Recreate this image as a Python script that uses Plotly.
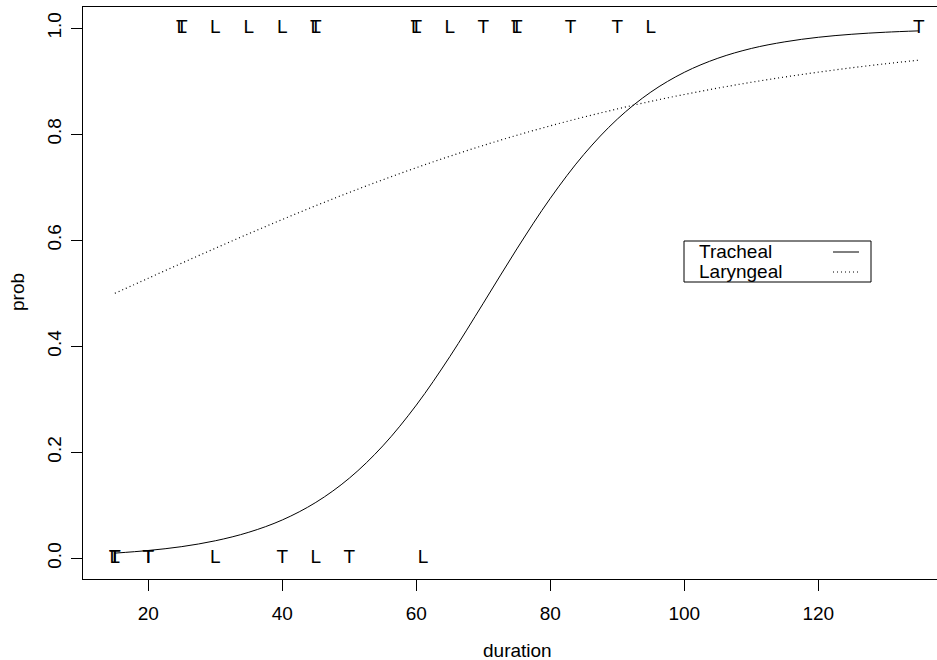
import plotly.graph_objects as go

# ---- data ----
duration_grid = [15, 20, 25, 30, 35, 40, 45, 50, 55, 60, 65, 70, 75, 80, 85,
                 90, 95, 100, 105, 110, 115, 120, 125, 130, 135]
prob_tracheal = [0.0098, 0.0148, 0.0221, 0.0331, 0.0492, 0.0724, 0.1055, 0.1512,
                 0.2121, 0.2891, 0.3805, 0.4813, 0.5836, 0.6792, 0.7618, 0.8285,
                 0.8795, 0.9168, 0.9433, 0.9618, 0.9743, 0.9829, 0.9886, 0.9924,
                 0.9950]
prob_laryngeal = [0.4999, 0.5284, 0.5569, 0.5849, 0.6124, 0.6392, 0.6652, 0.6902,
                  0.7141, 0.7369, 0.7585, 0.7789, 0.7980, 0.8158, 0.8324, 0.8477,
                  0.8620, 0.8750, 0.8870, 0.8980, 0.9080, 0.9171, 0.9254, 0.9329,
                  0.9397]

# observed outcomes (letter markers)
obs_T_duration = [25, 45, 60, 70, 75, 83, 90, 135, 15, 15, 20, 20, 40, 50]
obs_T_y        = [1, 1, 1, 1, 1, 1, 1, 1, 0, 0, 0, 0, 0, 0]
obs_L_duration = [25, 30, 35, 40, 45, 60, 65, 75, 95, 15, 30, 45, 61]
obs_L_y        = [1, 1, 1, 1, 1, 1, 1, 1, 1, 0, 0, 0, 0]

x_ticks = [20, 40, 60, 80, 100, 120]
y_ticks = [0.0, 0.2, 0.4, 0.6, 0.8, 1.0]
legend_labels = ["Tracheal", "Laryngeal"]

# ---- layout geometry (pixels) ----
W, H = 937, 660
ML, MR, MT, MB = 83, 0, 7, 81
PW, PH = W - ML - MR, H - MT - MB
FONT = "Liberation Sans, Arial, Helvetica, sans-serif"
FS = 19


def px2paper(px, py):
    return (px - ML) / PW, (H - MB - py) / PH


fig = go.Figure()

fig.add_trace(go.Scatter(x=duration_grid, y=prob_tracheal, mode="lines",
                         line=dict(color="black", width=1, shape="spline", smoothing=1),
                         showlegend=False, hoverinfo="skip"))
fig.add_trace(go.Scatter(x=duration_grid, y=prob_laryngeal, mode="lines",
                         line=dict(color="black", width=1.2, dash="1px,3px",
                                   shape="spline", smoothing=1),
                         showlegend=False, hoverinfo="skip"))

fig.add_trace(go.Scatter(x=obs_T_duration, y=obs_T_y, mode="text",
                         text=["T"] * len(obs_T_duration),
                         textposition="middle center",
                         textfont=dict(family=FONT, size=FS, color="black"),
                         showlegend=False))
fig.add_trace(go.Scatter(x=obs_L_duration, y=obs_L_y, mode="text",
                         text=["L"] * len(obs_L_duration),
                         textposition="middle center",
                         textfont=dict(family=FONT, size=FS, color="black"),
                         showlegend=False))

# ---- custom legend box ----
x0, y0 = px2paper(684, 241)
x1, y1 = px2paper(871, 282)
fig.add_shape(type="rect", xref="paper", yref="paper", x0=x0, y0=y1, x1=x1, y1=y0,
              line=dict(color="black", width=1), fillcolor="white", layer="above")
row_py = [251, 271]
dashes = ["solid", "1px,3px"]
for lab, py, d in zip(legend_labels, row_py, dashes):
    tx, ty = px2paper(697, py)
    fig.add_annotation(x=tx, y=ty, xref="paper", yref="paper", text=lab,
                       showarrow=False, xanchor="left", yanchor="middle",
                       font=dict(family=FONT, size=FS, color="black"))
    lx0, ly = px2paper(833, py + 1)
    lx1, _ = px2paper(859, py + 1)
    fig.add_shape(type="line", xref="paper", yref="paper", x0=lx0, x1=lx1, y0=ly, y1=ly,
                  line=dict(color="black", width=1, dash=d), layer="above")

# ---- axis titles ----
ax, ay = px2paper(517, 650)
fig.add_annotation(x=ax, y=ay, xref="paper", yref="paper", text="duration",
                   showarrow=False, xanchor="center", yanchor="middle",
                   font=dict(family=FONT, size=FS, color="black"))
bx, by = px2paper(17, 292)
fig.add_annotation(x=bx, y=by, xref="paper", yref="paper", text="prob",
                   showarrow=False, xanchor="center", yanchor="middle", textangle=-90,
                   font=dict(family=FONT, size=FS, color="black"))

fig.update_layout(
    width=W, height=H,
    margin=dict(l=ML, r=MR, t=MT, b=MB, pad=0, autoexpand=False),
    paper_bgcolor="white", plot_bgcolor="white",
    font=dict(family=FONT, size=FS, color="black"),
    showlegend=False,
    xaxis=dict(range=[10.25, 10.25 + PW / 6.7], tickvals=x_ticks,
               ticktext=[str(v) for v in x_ticks],
               showgrid=False, zeroline=False, showline=True, linecolor="black",
               linewidth=1, mirror=True, ticks="outside", ticklen=11,
               tickcolor="black", tickwidth=1, ticklabelstandoff=6),
    yaxis=dict(range=[-0.039, 1.040], tickvals=y_ticks,
               ticktext=[f"{v:.1f}" for v in y_ticks], tickangle=-90,
               showgrid=False, zeroline=False, showline=True, linecolor="black",
               linewidth=1, mirror=False, ticks="outside", ticklen=11,
               tickcolor="black", tickwidth=1, ticklabelstandoff=2),
)

fig.write_html(
    "out.html",
    config={"displayModeBar": False, "staticPlot": True},
    post_script="document.body.style.margin='0';document.body.style.overflow='hidden';",
)
